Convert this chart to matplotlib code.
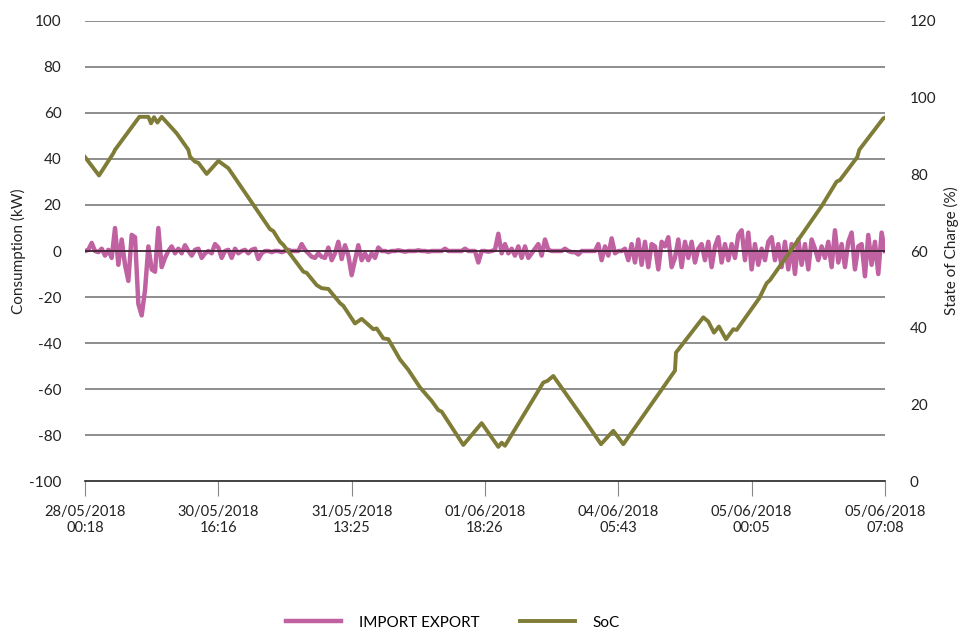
import matplotlib.pyplot as plt

# x axis category labels (evenly spaced)
tick_labels = ['28/05/2018\n00:18', '30/05/2018\n16:16', '31/05/2018\n13:25',
               '01/06/2018\n18:26', '04/06/2018\n05:43', '05/06/2018\n00:05',
               '05/06/2018\n07:08']
tick_pos = [0, 40, 80, 120, 160, 200, 240]

# import / export power (kW), one value per sample
import_export = [
    0, 0.5, 3.5, 0, -0.5, 1, -2, 0.5, -3, 10,
    -6, 5, -6, -13, 7, 6, -23, -28, -17, 2,
    -8, -9, 10, -7, -3, 0, 2, -1, 1, -1,
    2.5, 0, -2, 0.5, 1, -3, -1, 0, -1, 3,
    1.5, -3, 0, 0.5, -3, 1, -1, 0, 0.5, -1,
    0.5, 1, -3.5, -1, 0, 0, -0.5, 0, 0, -0.5,
    0, 0.5, 0, 0, 0, 3, 0.5, -1, -2.5, -3,
    -1, -2.5, -3, 1.5, -4, -1, 4, -3.5, 2.5, -2,
    -10.5, -4, 2.5, -4, -1, -4, -1, -3, 1.5, 0,
    0, -0.5, 0, 0, 0.3, 0, -0.3, 0, 0, 0,
    0.3, 0, 0, -0.3, 0, 0, 0, 0, 1, 0,
    0, 0, 0, 0, 1, 0, 0, 0, -5, 0,
    0, -0.3, 0, 0.5, 7.5, -1, 3, -1, 1, -2,
    2, -3, 2, -3, -1, 1, 3, -2, 5, 0.5,
    0, 0, 0, 0, 1, 0, -0.5, -0.5, -1.5, 0,
    0, 0, 0, 0, 3, -4, 2, -2, 5.5, -1,
    0, 0, 1, -4, 3, -5, 5, -6, 4, -7,
    3, 2, -8, 4, 2, 6, -7, -3, 5, -7,
    4, -3, 4, -5, 1, 3, -4, 4, -7, 2,
    6, -5, 3, -4, 3, -3, 7, 9, -4, 8,
    -8, 3, -6, 1, -4, 4, 6, -4, 3, -7,
    4, -8, 3, -10, 5, -6, 3, -8, 5, 1,
    -4, 2, -3, 4, -7, 9, -5, 3, -7, 4,
    8, -8, 2, 3, -11, 7, -6, 4, -10, 8,
    0,
]

# state of charge (%) at sample positions
soc_t = [0, 4.2, 8.5, 9, 16.3, 19, 19.8, 20.7, 21.7, 23, 27.5, 31, 31.5, 33, 34,
         36.5, 40, 43, 55.5, 56.5, 58.5, 59.5, 65.5, 66.5, 69.5, 71, 73, 76.5,
         77.5, 81, 83, 86.5, 87.5, 89.5, 91, 94.5, 97, 100.5, 104, 106, 107,
         113.5, 119, 124, 125, 126, 137.5, 138.7, 140.5, 150.5, 154.8, 158.5,
         161.5, 177, 177.3, 185.5, 187, 188.7, 190.2, 192.3, 194.5, 195.5,
         202.3, 204.5, 205.5, 211.5, 221, 225.5, 226.5, 231.7, 232.3, 239.5, 240]
soc = [84.5, 79.7, 85.5, 86.4, 95.0, 95.0, 93.3, 94.9, 93.5, 95.0, 90.7, 86.4,
       84.6, 83.3, 83.0, 80.1, 83.5, 81.6, 65.7, 65.2, 62.4, 61.6, 54.6, 54.3,
       51.1, 50.3, 50.1, 46.4, 45.7, 41.1, 42.3, 39.6, 39.8, 37.2, 37.0, 31.7,
       29.0, 24.4, 20.9, 18.5, 18.1, 9.4, 15.1, 8.9, 10.0, 9.2, 25.7, 26.1,
       27.4, 15.1, 9.6, 13.1, 9.6, 28.8, 33.5, 42.7, 41.6, 38.7, 40.3, 37.0,
       39.6, 39.4, 47.7, 51.6, 52.4, 59.8, 71.7, 78.1, 78.5, 84.5, 86.4, 94.6,
       94.8]

plt.rcParams['font.family'] = ['Lato', 'DejaVu Sans']
plt.rcParams['axes.unicode_minus'] = False

fig = plt.figure(figsize=(9.64, 6.34), dpi=100)
ax = fig.add_axes([0.0882, 0.2413, 0.8298, 0.7256])
ax2 = ax.twinx()

ax.plot(range(len(import_export)), import_export, color='#c062a1', lw=3.2,
        label='IMPORT EXPORT', zorder=3)
ax.axhline(0, color='#3a2233', lw=1.3, zorder=4)
ax2.plot(soc_t, soc, color='#7e7c36', lw=2.8, label='SoC', zorder=5)

ax.set_xlim(0, 240)
ax.set_ylim(-100, 100)
ax2.set_ylim(0, 120)
ax.set_yticks(range(-100, 101, 20))
ax2.set_yticks(range(0, 121, 20))

for y in range(-80, 101, 20):
    if y != 0:
        ax.axhline(y, color='#7a7a7a', lw=1.2, zorder=1)

ax.set_xticks(tick_pos)
ax.set_xticklabels(tick_labels, fontsize=10.5, color='#222222')
ax.tick_params(axis='x', direction='out', length=11, color='#888888', pad=6)
ax.tick_params(axis='y', length=0, labelsize=11, pad=17, colors='#222222')
ax2.tick_params(axis='y', length=0, labelsize=11, pad=18, colors='#222222')

for a in (ax, ax2):
    for s in ('top', 'left', 'right'):
        a.spines[s].set_visible(False)
ax.spines['bottom'].set_color('#222222')
ax.spines['bottom'].set_linewidth(1.2)
ax2.spines['bottom'].set_visible(False)

ax.set_ylabel('Consumption (kW)', fontsize=11, color='#222222', labelpad=2)
ax2.set_ylabel('State of Charge (%)', fontsize=11, color='#222222',
               rotation=90, labelpad=5)

h1, l1 = ax.get_legend_handles_labels()
h2, l2 = ax2.get_legend_handles_labels()
fig.legend(h1 + h2, l1 + l2, loc='center', bbox_to_anchor=(0.47, 0.018),
           ncol=2, frameon=False, fontsize=11, handlelength=3.6,
           columnspacing=2.6, handletextpad=1.2, borderpad=0)

ax.set_zorder(ax2.get_zorder() - 1)
ax.patch.set_visible(False)

fig.savefig('out.png', dpi=100)
